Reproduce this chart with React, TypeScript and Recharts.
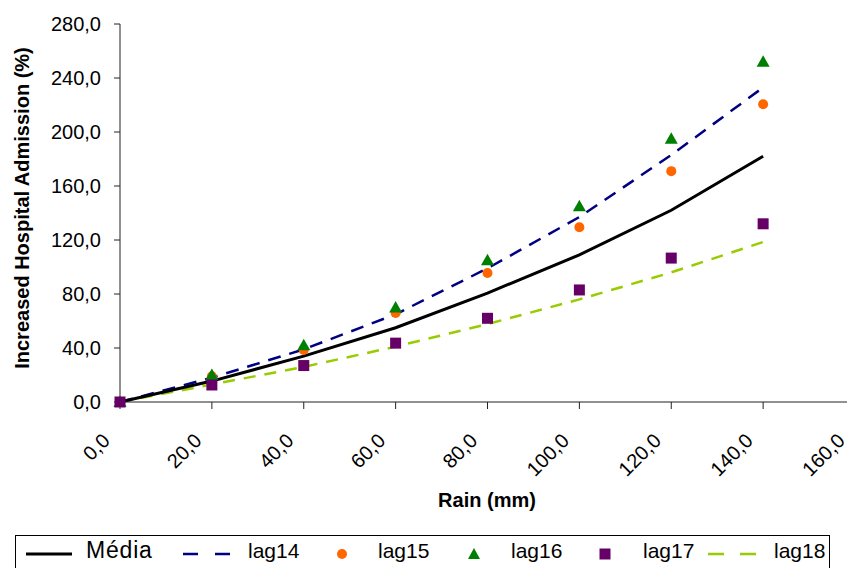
import React from "react";
import { ComposedChart, Line, Scatter, XAxis, YAxis } from "recharts";

const rain = [0, 20, 40, 60, 80, 100, 120, 140];
const media = [0, 15.5, 34, 55, 80.7, 109, 142, 182];
const lag14 = [0, 18, 39, 65, 99, 137, 183, 233];
const lag15 = [0, 19, 38.5, 66, 95.5, 129.5, 171, 220.5];
const lag16 = [0, 20, 42, 70, 105, 145, 195, 252];
const lag17 = [0, 12.6, 27, 43.6, 62, 83, 106.6, 132];
const lag18 = [0, 13, 26, 41, 57.7, 76, 96, 118.5];

const xTicks = [0, 20, 40, 60, 80, 100, 120, 140, 160];
const yTicks = [0, 40, 80, 120, 160, 200, 240, 280];

const data = rain.map((x, i) => ({
  x,
  media: media[i],
  lag14: lag14[i],
  lag15: lag15[i],
  lag16: lag16[i],
  lag17: lag17[i],
  lag18: lag18[i],
}));

const FONT = "'Liberation Sans', Arial, sans-serif";
const fmt = (v: number) => v.toFixed(1).replace(".", ",");

const Circle = (p: any) => <circle cx={p.cx} cy={p.cy} r={5} fill="#FF6600" />;
const Tri = (p: any) => (
  <path d={`M${p.cx},${p.cy - 6.5} L${p.cx + 6.5},${p.cy + 5} L${p.cx - 6.5},${p.cy + 5} Z`} fill="#008000" />
);
const Sq = (p: any) => <rect x={p.cx - 5.5} y={p.cy - 5.5} width={11} height={11} fill="#660066" />;

const XTick = (p: any) => {
  const { x, y, payload } = p;
  const tx = x - 9;
  const ty = y + 33;
  return (
    <text x={tx} y={ty} transform={`rotate(-45 ${tx} ${ty})`} textAnchor="end" fontFamily={FONT} fontSize={20} fill="#000">
      {fmt(payload.value)}
    </text>
  );
};

const legendText: React.CSSProperties = {
  position: "absolute",
  top: 539,
  fontFamily: FONT,
  fontSize: 21,
  lineHeight: "24px",
  color: "#000",
  whiteSpace: "nowrap",
};

export default function App() {
  return (
    <div style={{ position: "absolute", left: 0, top: 0, width: 847, height: 568, overflow: "hidden", background: "#fff" }}>
      <ComposedChart width={880} height={568} data={data} margin={{ top: 24, right: 25, bottom: 0, left: 0 }}>
        <XAxis
          dataKey="x"
          type="number"
          domain={[0, 160]}
          ticks={xTicks}
          interval={0}
          height={166}
          tickSize={7}
          tickMargin={0}
          stroke="#222"
          tick={<XTick />}
          label={{
            content: () => (
              <text x={487} y={500} textAnchor="middle" dominantBaseline="central" fontFamily={FONT} fontSize={20} fontWeight="bold" fill="#000">
                Rain (mm)
              </text>
            ),
          }}
        />
        <YAxis
          domain={[0, 280]}
          ticks={yTicks}
          interval={0}
          width={120}
          tickSize={6}
          tickMargin={13}
          stroke="#222"
          tickFormatter={fmt}
          tick={{ fontFamily: FONT, fontSize: 20, fill: "#000" }}
          label={{
            content: () => (
              <text x={22} y={208} transform="rotate(-90 22 208)" textAnchor="middle" dominantBaseline="central" fontFamily={FONT} fontSize={20} fontWeight="bold" fill="#000">
                Increased Hospital Admission (%)
              </text>
            ),
          }}
        />
        <Line dataKey="lag18" type="linear" stroke="#99CC00" strokeWidth={2.5} strokeDasharray="12 9" dot={false} isAnimationActive={false} />
        <Line dataKey="lag14" type="linear" stroke="#000080" strokeWidth={2.5} strokeDasharray="13 9" dot={false} isAnimationActive={false} />
        <Line dataKey="media" type="linear" stroke="#000" strokeWidth={3} dot={false} isAnimationActive={false} />
        <Scatter dataKey="lag15" shape={Circle} isAnimationActive={false} />
        <Scatter dataKey="lag16" shape={Tri} isAnimationActive={false} />
        <Scatter dataKey="lag17" shape={Sq} isAnimationActive={false} />
      </ComposedChart>
      <div style={{ position: "absolute", left: 15, top: 535, width: 815, height: 50, border: "1px solid #000", boxSizing: "border-box" }} />
      <svg style={{ position: "absolute", left: 0, top: 535, overflow: "visible" }} width={847} height={33}>
        <line x1={26} x2={72} y1={19} y2={19} stroke="#000" strokeWidth={3} />
        <line x1={183} x2={232} y1={19} y2={19} stroke="#000080" strokeWidth={2.5} strokeDasharray="15 17" />
        <circle cx={342} cy={19} r={5} fill="#FF6600" />
        <path d="M474,13 L480,24 L468,24 Z" fill="#008000" />
        <rect x={599.5} y={13.5} width={11} height={11} fill="#660066" />
        <line x1={708} x2={757} y1={19} y2={19} stroke="#99CC00" strokeWidth={2.5} strokeDasharray="16 16" />
      </svg>
      <span style={{ ...legendText, left: 86, fontSize: 23, letterSpacing: 0.8, top: 538 }}>Média</span>
      <span style={{ ...legendText, left: 248 }}>lag14</span>
      <span style={{ ...legendText, left: 378 }}>lag15</span>
      <span style={{ ...legendText, left: 511 }}>lag16</span>
      <span style={{ ...legendText, left: 643 }}>lag17</span>
      <span style={{ ...legendText, left: 774 }}>lag18</span>
    </div>
  );
}
